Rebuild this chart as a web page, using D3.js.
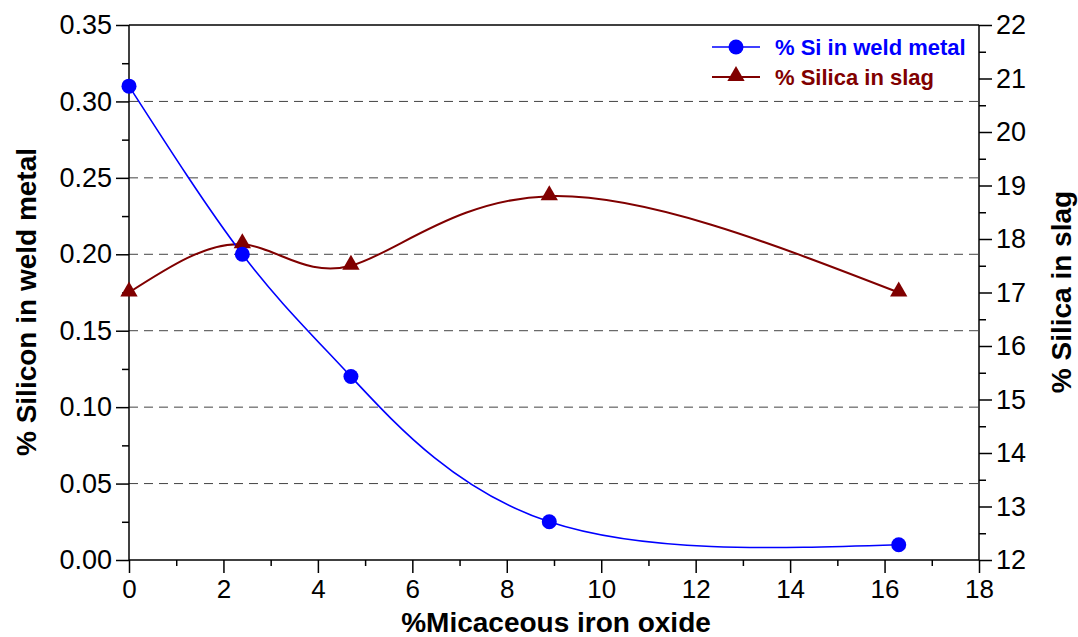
<!DOCTYPE html>
<html><head><meta charset="utf-8">
<script src="https://cdn.jsdelivr.net/npm/d3@7"></script>
<style>body{margin:0;background:#fff}svg{display:block}text{font-family:"Liberation Sans",Arial,sans-serif}</style>
</head><body><svg id="c" width="1078" height="637"></svg>
<script>
const oxide = [0, 2.4, 4.7, 8.9, 16.3];
const siWeld = [0.31, 0.20, 0.12, 0.025, 0.01];
const silicaSlag = [17.0, 17.9, 17.5, 18.8, 17.0];
const xTicks = [0,2,4,6,8,10,12,14,16,18];
const yLeftTicks = [0,0.05,0.10,0.15,0.20,0.25,0.30,0.35];
const yRightTicks = [12,13,14,15,16,17,18,19,20,21,22];
const seriesNames = ["% Si in weld metal", "% Silica in slag"];

const svg = d3.select("#c");
const L=129, R=979, T=25, B=560;
const x = d3.scaleLinear().domain([0,18]).range([L,R]);
const yL = d3.scaleLinear().domain([0,0.35]).range([B,T]);
const yR = d3.scaleLinear().domain([12,22]).range([B,T]);
const blue="#0000ff", red="#800000";

// grid
svg.append("g").selectAll("line").data(yLeftTicks.filter(v=>v>0&&v<0.35)).join("line")
  .attr("x1",L).attr("x2",R).attr("y1",d=>yL(d)).attr("y2",d=>yL(d))
  .attr("stroke","#444").attr("stroke-width",1).attr("stroke-dasharray","9,6");

// top border
svg.append("line").attr("x1",L).attr("x2",R).attr("y1",T).attr("y2",T).attr("stroke","#000").attr("stroke-width",1.5);

const fmt2 = d3.format(".2f");
// left axis
const gl = svg.append("g").attr("transform",`translate(${L},0)`)
  .call(d3.axisLeft(yL).tickValues(yLeftTicks).tickFormat(fmt2).tickSize(13).tickPadding(4));
const glm = svg.append("g").attr("transform",`translate(${L},0)`)
  .call(d3.axisLeft(yL).tickValues(d3.range(0.025,0.35,0.05)).tickFormat("").tickSize(7));
// right axis
const gr = svg.append("g").attr("transform",`translate(${R},0)`)
  .call(d3.axisRight(yR).tickValues(yRightTicks).tickFormat(d3.format("d")).tickSize(13).tickPadding(4));
const grm = svg.append("g").attr("transform",`translate(${R},0)`)
  .call(d3.axisRight(yR).tickValues(d3.range(12.5,22,1)).tickFormat("").tickSize(7));
// bottom axis
const gb = svg.append("g").attr("transform",`translate(0,${B})`)
  .call(d3.axisBottom(x).tickValues(xTicks).tickFormat(d3.format("d")).tickSize(13).tickPadding(7));
const gbm = svg.append("g").attr("transform",`translate(0,${B})`)
  .call(d3.axisBottom(x).tickValues(d3.range(1,18,2)).tickFormat("").tickSize(6));

[gl,glm,gr,grm,gb,gbm].forEach(g=>{
  g.select(".domain").remove();
  g.selectAll("line").attr("stroke","#000").attr("stroke-width",1.5);
  g.selectAll("text").attr("fill","#000").style("font-size","27px").style("font-family",'"Liberation Sans",Arial,sans-serif');
});
gb.selectAll("text").style("font-size","26px");
// axis lines
svg.append("line").attr("x1",L).attr("x2",L).attr("y1",T).attr("y2",B).attr("stroke","#000").attr("stroke-width",1.5);
svg.append("line").attr("x1",R).attr("x2",R).attr("y1",T).attr("y2",B).attr("stroke","#000").attr("stroke-width",1.5);
svg.append("line").attr("x1",L).attr("x2",R).attr("y1",B).attr("y2",B).attr("stroke","#000").attr("stroke-width",1.5);

// curves
const siData = oxide.map((v,i)=>[v,siWeld[i]]);
const slagData = oxide.map((v,i)=>[v,silicaSlag[i]]);
svg.append("path").datum(slagData).attr("fill","none").attr("stroke",red).attr("stroke-width",2)
  .attr("d",d3.line().x(d=>x(d[0])).y(d=>yR(d[1])).curve(d3.curveNatural));
svg.append("path").datum(siData).attr("fill","none").attr("stroke",blue).attr("stroke-width",1.6)
  .attr("d",d3.line().x(d=>x(d[0])).y(d=>yL(d[1])).curve(d3.curveNatural));

const tri = d3.symbol().type(d3.symbolTriangle).size(130);
svg.append("g").selectAll("path").data(slagData).join("path")
  .attr("transform",d=>`translate(${x(d[0])},${yR(d[1])-1})`).attr("d",tri).attr("fill",red);
svg.append("g").selectAll("circle").data(siData).join("circle")
  .attr("cx",d=>x(d[0])).attr("cy",d=>yL(d[1])).attr("r",7.5).attr("fill",blue);

// axis titles
svg.append("text").attr("x",556).attr("y",632).attr("text-anchor","middle")
  .style("font-size","28px").style("font-weight","bold").text("%Micaceous iron oxide");
svg.append("text").attr("transform","translate(36,302) rotate(-90)").attr("text-anchor","middle")
  .style("font-size","28px").style("font-weight","bold").text("% Silicon in weld metal");
svg.append("text").attr("transform","translate(1071,292) rotate(-90)").attr("text-anchor","middle")
  .style("font-size","28px").style("font-weight","bold").text("% Silica in slag");

// legend
const leg = svg.append("g");
const legY = [47, 77];
const legCol = [blue, red];
leg.selectAll("line").data(legY).join("line")
  .attr("x1",712).attr("x2",760).attr("y1",d=>d).attr("y2",d=>d)
  .attr("stroke",(d,i)=>legCol[i]).attr("stroke-width",(d,i)=>i?2:1.6);
leg.append("circle").attr("cx",736).attr("cy",legY[0]).attr("r",7.5).attr("fill",blue);
leg.append("path").attr("transform",`translate(736,${legY[1]-1})`).attr("d",tri).attr("fill",red);
leg.selectAll("text").data(seriesNames).join("text")
  .attr("x",775).attr("y",(d,i)=>legY[i]+8).attr("fill",(d,i)=>legCol[i])
  .style("font-size","22px").style("font-weight","bold").text(d=>d);
</script></body></html>
